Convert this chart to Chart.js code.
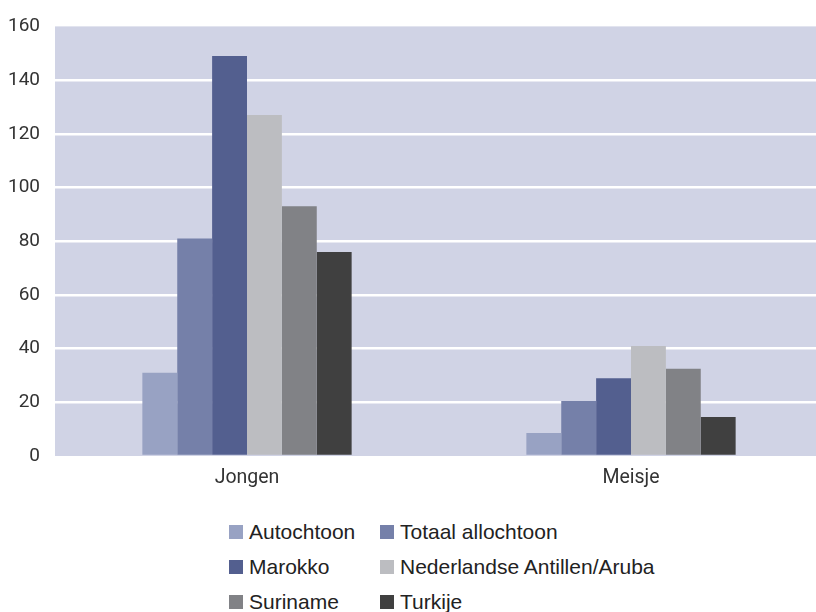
<!DOCTYPE html>
<html>
<head>
<meta charset="utf-8">
<script src="https://cdn.jsdelivr.net/npm/chart.js@4/dist/chart.umd.min.js"></script>
<style>
  html, body { margin: 0; padding: 0; background: #fff; width: 816px; height: 612px; overflow: hidden; }
  #wrap { position: absolute; left: 0; top: 0; width: 840px; height: 500px; }
  #legend { position: absolute; left: 229px; top: 520px; font-family: "Liberation Sans", Arial, sans-serif; font-size: 21px; color: #222; }
  .item { position: absolute; white-space: nowrap; display: flex; align-items: center; height: 24px; }
  .sw { width: 14px; height: 14px; margin-right: 6px; }
</style>
</head>
<body>
<div id="wrap"><canvas id="c"></canvas></div>
<div id="legend"></div>
<script>
const categories = ["Jongen", "Meisje"];
const seriesNames = ["Autochtoon", "Totaal allochtoon", "Marokko", "Nederlandse Antillen/Aruba", "Suriname", "Turkije"];
const autochtoon = [31, 8.6];
const totaalAllochtoon = [81, 20.5];
const marokko = [149, 29];
const antillenAruba = [127, 41];
const suriname = [93, 32.5];
const turkije = [76, 14.5];
const yTicks = [0, 20, 40, 60, 80, 100, 120, 140, 160];
const seriesColors = ["#98a2c3", "#7580a9", "#535f8f", "#bcbdc1", "#818286", "#404040"];

const seriesValues = [autochtoon, totaalAllochtoon, marokko, antillenAruba, suriname, turkije];

const bgPlugin = {
  id: 'bgPlugin',
  beforeDraw(chart) {
    const a = chart.chartArea, ctx = chart.ctx;
    ctx.save();
    ctx.fillStyle = '#d0d3e5';
    ctx.fillRect(a.left, a.top, a.right - a.left, a.bottom - a.top);
    ctx.restore();
  }
};

new Chart(document.getElementById('c'), {
  type: 'bar',
  data: {
    labels: categories,
    datasets: seriesNames.map((n, i) => ({
      label: n,
      data: seriesValues[i],
      backgroundColor: seriesColors[i],
      borderWidth: 0,
      categoryPercentage: 0.545,
      barPercentage: 1.0
    }))
  },
  options: {
    responsive: true,
    maintainAspectRatio: false,
    animation: false,
    layout: { padding: { top: 25, right: 17, left: 0, bottom: 0 } },
    plugins: { legend: { display: false }, tooltip: { enabled: false } },
    scales: {
      x: {
        grid: { display: false, drawTicks: false },
        border: { display: false },
        ticks: { color: '#333', font: { family: 'Roboto', size: 19.5 }, padding: 10 },
        afterFit(s) { s.height = 44; }
      },
      y: {
        min: 0, max: 160,
        afterBuildTicks(s) { s.ticks = yTicks.map(v => ({ value: v })); },
        grid: {
          color: ctx => (ctx.tick && (ctx.tick.value === 0 || ctx.tick.value === 160)) ? 'rgba(0,0,0,0)' : '#ffffff',
          lineWidth: 2.5,
          drawTicks: false
        },
        border: { display: false },
        ticks: { color: '#333', font: { family: 'Roboto', size: 19 }, padding: 15 },
        afterFit(s) { s.width = 55; }
      }
    }
  },
  plugins: [bgPlugin]
});

const legend = document.getElementById('legend');
const colX = [0, 151];
seriesNames.forEach((n, i) => {
  const d = document.createElement('div');
  d.className = 'item';
  d.style.left = colX[i % 2] + 'px';
  d.style.top = (Math.floor(i / 2) * 35) + 'px';
  d.innerHTML = '<span class="sw" style="background:' + seriesColors[i] + '"></span><span>' + n + '</span>';
  legend.appendChild(d);
});
</script>
</body>
</html>
